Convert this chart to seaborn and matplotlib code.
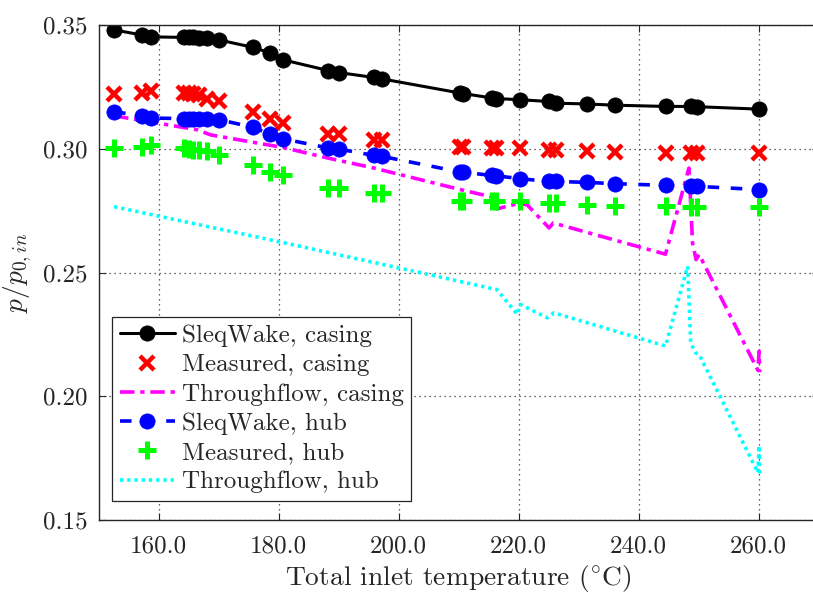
import matplotlib
matplotlib.use("Agg")
import matplotlib.pyplot as plt
from matplotlib.ticker import FormatStrFormatter
import pandas as pd
import seaborn as sns

# Inlet temperatures of the operating points (deg C)
temperature = [152.6, 157.2, 158.8, 164.2, 165.0, 165.8, 166.7, 168.1, 170.0, 175.7,
               178.5, 180.8, 188.3, 190.0, 195.9, 197.3, 210.3, 210.8, 215.6, 216.2,
               220.3, 225.0, 226.3, 231.4, 236.0, 244.5, 248.7, 249.8, 260.1]

sleqwake_casing = [0.3480, 0.3460, 0.3452, 0.3450, 0.3450, 0.3450, 0.3449, 0.3446, 0.3440, 0.3410,
                   0.3388, 0.3359, 0.3316, 0.3308, 0.3288, 0.3282, 0.3225, 0.3223, 0.3205, 0.3203,
                   0.3198, 0.3191, 0.3184, 0.3181, 0.3176, 0.3171, 0.3171, 0.3170, 0.3160]

measured_casing = [0.3222, 0.3227, 0.3235, 0.3224, 0.3224, 0.3222, 0.3218, 0.3200, 0.3191, 0.3150,
                   0.3120, 0.3106, 0.3060, 0.3058, 0.3036, 0.3036, 0.3009, 0.3009, 0.3005, 0.3005,
                   0.3003, 0.2996, 0.2996, 0.2990, 0.2986, 0.2984, 0.2984, 0.2983, 0.2983]

sleqwake_hub = [0.3150, 0.3133, 0.3124, 0.3122, 0.3122, 0.3122, 0.3121, 0.3120, 0.3118, 0.3087,
                0.3060, 0.3040, 0.3003, 0.2999, 0.2973, 0.2969, 0.2906, 0.2905, 0.2892, 0.2891,
                0.2879, 0.2868, 0.2868, 0.2864, 0.2859, 0.2852, 0.2849, 0.2848, 0.2835]

measured_hub = [0.3003, 0.3009, 0.3016, 0.3003, 0.2999, 0.2995, 0.2993, 0.2989, 0.2976, 0.2935,
                0.2908, 0.2895, 0.2841, 0.2841, 0.2821, 0.2821, 0.2788, 0.2788, 0.2788, 0.2788,
                0.2788, 0.2781, 0.2781, 0.2774, 0.2770, 0.2767, 0.2765, 0.2765, 0.2765]

# Throughflow solver results, sampled on their own temperature grid
tf_casing_temperature = [152.6, 166.4, 168.7, 180.8, 188.3, 195.9, 210.3, 215.6, 216.4, 220.3,
                         221.5, 225.1, 225.8, 244.5, 248.4, 248.8, 249.0, 249.6, 250.1, 259.9,
                         260.1, 260.2]
tf_casing = [0.3133, 0.3077, 0.3056, 0.3005, 0.2962, 0.2922, 0.2835, 0.2805, 0.2757, 0.2781,
             0.2772, 0.2680, 0.2700, 0.2574, 0.2922, 0.2727, 0.2620, 0.2552, 0.2573, 0.2105,
             0.2182, 0.2097]

tf_hub_temperature = [152.6, 179.8, 203.7, 216.4, 219.8, 220.3, 224.8, 225.9, 244.5, 248.2,
                      248.7, 249.5, 250.1, 259.9, 260.1, 260.2]
tf_hub = [0.2766, 0.2626, 0.2499, 0.2431, 0.2331, 0.2371, 0.2317, 0.2337, 0.2203, 0.2525,
          0.2216, 0.2176, 0.2169, 0.1692, 0.1800, 0.1672]

x_ticks = [160, 180, 200, 220, 240, 260]
y_ticks = [0.15, 0.20, 0.25, 0.30, 0.35]

sns.set_style("ticks")
plt.rcParams.update({
    "font.family": ["cmr10", "DejaVu Serif"],
    "mathtext.fontset": "cm",
    "axes.formatter.use_mathtext": True,
    "axes.unicode_minus": False,
    "font.size": 18,
    "xtick.direction": "in",
    "ytick.direction": "in",
    "xtick.top": True,
    "ytick.right": True,
    "axes.edgecolor": "#262626",
    "axes.linewidth": 1.0,
})

points = pd.DataFrame({
    "T": temperature,
    "sleq_casing": sleqwake_casing,
    "meas_casing": measured_casing,
    "sleq_hub": sleqwake_hub,
    "meas_hub": measured_hub,
})
tf_c = pd.DataFrame({"T": tf_casing_temperature, "p": tf_casing})
tf_h = pd.DataFrame({"T": tf_hub_temperature, "p": tf_hub})

fig = plt.figure(figsize=(8.13, 5.93), dpi=100)
ax = fig.add_axes([98.5 / 813, 73 / 593, 720 / 813, 495 / 593])

sns.lineplot(data=points, x="T", y="sleq_casing", ax=ax, color="black", lw=2.2,
             marker="o", markersize=11, markeredgecolor="black", markeredgewidth=0.5,
             estimator=None, sort=False, label="SleqWake, casing")
sns.lineplot(data=points, x="T", y="meas_casing", ax=ax, color="red", linestyle="none",
             marker="x", markersize=9.5, markeredgewidth=3.2, markeredgecolor="red",
             estimator=None, sort=False, label="Measured, casing")
sns.lineplot(data=tf_c, x="T", y="p", ax=ax, color="magenta", lw=2.6,
             estimator=None, sort=False, label="Throughflow, casing",
             linestyle=(0, (4, 1.6, 1.2, 1.6)))
sns.lineplot(data=points, x="T", y="sleq_hub", ax=ax, color="blue", lw=2.6,
             marker="o", markersize=11, markeredgecolor="blue", markeredgewidth=0.5,
             estimator=None, sort=False, label="SleqWake, hub",
             linestyle=(0, (3.2, 3.2)))
sns.lineplot(data=points, x="T", y="meas_hub", ax=ax, color="#00ff00", linestyle="none",
             marker="+", markersize=13, markeredgewidth=3.6, markeredgecolor="#00ff00",
             estimator=None, sort=False, label="Measured, hub")
sns.lineplot(data=tf_h, x="T", y="p", ax=ax, color="cyan", lw=2.6,
             estimator=None, sort=False, label="Throughflow, hub",
             linestyle=(0, (0.9, 1.1)))

ax.set_xlim(150, 270)
ax.set_ylim(0.15, 0.35)
ax.set_xticks(x_ticks)
ax.set_yticks(y_ticks)
ax.xaxis.set_major_formatter(FormatStrFormatter("%.1f"))
ax.yaxis.set_major_formatter(FormatStrFormatter("%.2f"))
ax.tick_params(length=5, width=0.8, colors="#262626", labelcolor="#262626", labelsize=18)
ax.tick_params(axis="x", pad=11)
ax.tick_params(axis="y", pad=8)
ax.grid(True, linestyle=(0, (1, 3)), color="#333333", linewidth=0.9)

ax.set_xlabel(r"Total inlet temperature ($^{\circ}$C)", fontsize=19.8, color="#262626",
              labelpad=4)
ax.set_ylabel(r"$p/p_{0,in}$", fontsize=19.8, color="#262626", labelpad=6)

leg = ax.legend(loc="upper left", bbox_to_anchor=(0.0188, 0.410), borderaxespad=0,
                fancybox=False, framealpha=1, edgecolor="#262626", fontsize=18,
                handlelength=2.2, handletextpad=0.3, labelspacing=0.27,
                borderpad=0.3, numpoints=1)
leg.get_frame().set_linewidth(0.9)

fig.savefig("out.png", dpi=100)
